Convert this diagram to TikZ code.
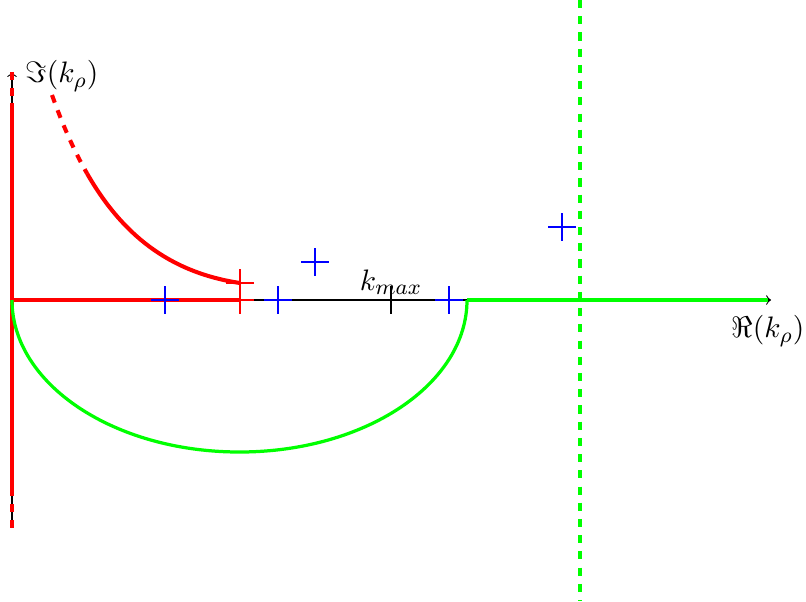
\documentclass[tikz,border=0pt]{standalone}
\begin{document}
\begin{tikzpicture}[x=0.37pt,y=-0.37pt,
  axis/.style={black,line width=0.4pt,-to},
  redline/.style={red,line width=1.5pt},
  greenline/.style={green,line width=1.2pt},
  dashpat/.style={dash pattern=on 3pt off 3pt},
  lab/.style={font=\fontsize{11}{13}\selectfont,inner sep=0pt},
  plusmark/.pic={\draw[line width=0.65pt] (-14,0)--(14,0) (0,-14)--(0,14);}]
\useasboundingbox (0,0) rectangle (806,601);
% coordinates
\coordinate (O) at (12,300);
\coordinate (ytop) at (12,72);
\coordinate (ybot) at (12,528);
\coordinate (xend) at (771,300);
\coordinate (ysolidtop) at (12,103);
\coordinate (ysolidbot) at (12,488);
\coordinate (rend) at (240,300);
\coordinate (cstart) at (52,95);
\coordinate (cmid) at (87.06,173.49);
\coordinate (cend) at (240,283);
\coordinate (gA) at (467,300);
\coordinate (gB) at (768,300);
\coordinate (vtop) at (580,0);
\coordinate (vbot) at (580,601);
% axes
\draw[axis] (ybot) -- (ytop);
\draw[axis] (O) -- (xend);
% red paths
\draw[redline,dashpat] (ytop) -- (ysolidtop);
\draw[redline] (ysolidtop) -- (ysolidbot);
\draw[redline,dashpat] (ysolidbot) -- (ybot);
\draw[redline] (O) -- (rend);
\draw[redline,dashpat] (cstart) .. controls (62.30,123.98) and (73.74,150.29) .. (cmid);
\draw[redline] (cmid) .. controls (121.30,233.15) and (168,272.2) .. (cend);
% green paths
\draw[greenline] (gA) arc[start angle=0,end angle=180,x radius=227.5,y radius=152];
\draw[greenline] (gA) -- (gB);
\draw[greenline,dashpat] (vtop) -- (vbot);
% markers
\pic[red] at (240,283) {plusmark};
\pic[red] at (240,300) {plusmark};
\pic[blue] at (165,300) {plusmark};
\pic[blue] at (278,300) {plusmark};
\pic[blue] at (315,262) {plusmark};
\pic[blue] at (449,300) {plusmark};
\pic[blue] at (562,227) {plusmark};
\pic[black] at (391,300) {plusmark};
% labels
\node[lab] (imlab) at (62,76) {$\Im(k_\rho)$};
\node[lab] (relab) at (768,331) {$\Re(k_\rho)$};
\node[lab] (kmax) at (391,282) {$k_{max}$};
\end{tikzpicture}
\end{document}
